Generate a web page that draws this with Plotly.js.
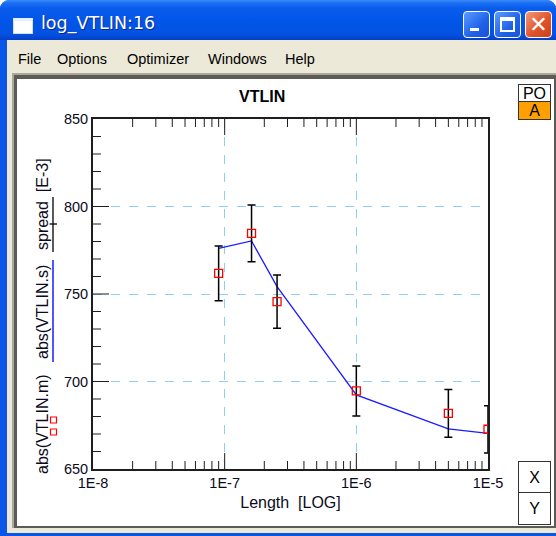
<!DOCTYPE html>
<html><head><meta charset="utf-8">
<script src="https://cdn.plot.ly/plotly-3.0.1.min.js"></script>
<style>
html,body{margin:0;padding:0;background:#fff;width:556px;height:536px;overflow:hidden;font-family:"Liberation Sans",Arial,sans-serif;}
.a{position:absolute;box-sizing:border-box;}
.menu span{position:absolute;top:0;font-size:14.5px;color:#000;}
.btn{position:absolute;border:1px solid #fff;border-radius:4px;box-sizing:border-box;}
.box{position:absolute;box-sizing:border-box;border:1.5px solid #333;font-size:16px;text-align:center;color:#000;}
</style></head><body>
<!-- window chrome -->
<div class="a" style="left:0;top:0;width:556px;height:536px;background:#0a56e6;border-radius:9px 9px 0 0;"></div>
<div class="a" style="left:0;top:0;width:556px;height:40px;border-radius:9px 9px 0 0;background:linear-gradient(to bottom,#3a8cf8 0%,#1b6ff5 8%,#0a5cec 20%,#0055e8 55%,#0552e2 85%,#0340c6 100%);"></div>
<div class="a" style="left:13px;top:18px;width:20px;height:16px;background:#fff;border:1px solid #cfe0ff;border-top:3px solid #e8f0ff;"></div>
<div class="a" style="left:41px;top:13px;font-family:'DejaVu Sans',sans-serif;font-size:17.5px;color:#fff;white-space:nowrap;text-shadow:1px 1px 0 #0a2a8a;">log_VTLIN:16</div>
<div class="btn" style="left:463px;top:11px;width:27px;height:27px;background:linear-gradient(135deg,#5b9bff,#1f62ea 60%,#1a52d6);"><div class="a" style="left:6px;top:16px;width:9px;height:3px;background:#fff;"></div></div>
<div class="btn" style="left:494px;top:11px;width:27px;height:27px;background:linear-gradient(135deg,#5b9bff,#1f62ea 60%,#1a52d6);"><div class="a" style="left:5px;top:5px;width:15px;height:15px;border:2px solid #fff;border-top-width:4px;"></div></div>
<div class="btn" style="left:525px;top:11px;width:27px;height:27px;background:linear-gradient(135deg,#f09a7a,#e0542c 55%,#c9411c);color:#fff;font-size:22px;line-height:25px;text-align:center;font-family:'DejaVu Sans',sans-serif;">✕</div>
<div class="a" style="left:7px;top:40px;width:549px;height:493px;background:#ece9d8;"></div>
<div class="a menu" style="left:0;top:51px;width:556px;height:20px;">
<span style="left:18px">File</span><span style="left:57px">Options</span><span style="left:127px">Optimizer</span><span style="left:208px">Windows</span><span style="left:285px">Help</span>
</div>
<div class="a" style="left:12px;top:73px;width:544px;height:455px;background:#aca899;"></div>
<div class="a" style="left:14px;top:75px;width:542px;height:453px;background:#5c5b55;"></div>
<div class="a" style="left:17px;top:79px;width:537px;height:447px;background:#fff;"></div>
<div class="box" style="left:518px;top:84px;width:33px;height:19px;line-height:17px;background:#fff;">PO</div>
<div class="box" style="left:518px;top:101px;width:33px;height:19px;line-height:17px;background:#ffa000;">A</div>
<div class="box" style="left:518px;top:461px;width:33px;height:33px;line-height:31px;background:#fff;">X</div>
<div class="box" style="left:518px;top:492px;width:33px;height:33px;line-height:31px;background:#fff;">Y</div>
<div id="plot" class="a" style="left:0;top:0;width:556px;height:536px;"></div>
<script>
// ---- data ----
const lengthVals = [9e-8, 1.6e-7, 2.5e-7, 1e-6, 5e-6, 1e-5];
const measured   = [761.8, 784.6, 745.6, 694.6, 681.8, 672.7];
const simulated  = [776.1, 780.3, 754.2, 692.3, 672.9, 670.4];
const spread     = [15.7, 16.2, 15.2, 14.3, 13.6, 13.5];
const xTickVals  = [1e-8, 1e-7, 1e-6, 1e-5];
const xTickText  = ['1E-8', '1E-7', '1E-6', '1E-5'];
const yTickVals  = [650, 700, 750, 800, 850];

// plot area in pixels
const L = 93, R = 488, T = 119, B = 469, W = 556, H = 536;
const px = x => (x - L) / (R - L);
const py = y => (B - y) / (B - T);

const FONT = 'Liberation Sans, Arial, sans-serif';
const TXT = '#0a0a20';
const AX = '#1e1e1e';
const GRID = '#8ccfff';
const X_RANGE = [-8, -5], Y_RANGE = [650, 850];

const traces = [
  {x: lengthVals, y: simulated, type: 'scatter', mode: 'lines', line: {color: '#1a1aff', width: 1.3}},
  {x: lengthVals, y: measured, type: 'scatter', mode: 'markers',
   marker: {symbol: 'square-open', size: 8, color: '#ff0000', line: {width: 1.3, color: '#ff0000'}},
   error_y: {type: 'data', array: spread, visible: true, color: '#000', thickness: 1.5, width: 4}}
];

const vtext = (t, x, y) => ({
  text: t, x: px(x), y: py(y), xref: 'paper', yref: 'paper', showarrow: false,
  textangle: -90, xanchor: 'center', yanchor: 'middle', font: {family: FONT, size: 16, color: TXT}
});

// axis tick marks (derived from the axis ranges), drawn as paper-referenced shapes
const tickShapes = [];
const xFrac = v => (Math.log10(v) - X_RANGE[0]) / (X_RANGE[1] - X_RANGE[0]);
const yFrac = v => (v - Y_RANGE[0]) / (Y_RANGE[1] - Y_RANGE[0]);
const tickLine = (x0, x1, y0, y1) => tickShapes.push({type: 'line', xref: 'paper', yref: 'paper', x0, x1, y0, y1, line: {color: AX, width: 1}});
for (let k = X_RANGE[0]; k < X_RANGE[1]; k++) {
  for (let m = 1; m <= 9; m++) {
    const f = xFrac(m * Math.pow(10, k));
    if (f <= 0) continue;
    const len = (m === 1 ? 16 : 8) / (B - T);
    tickLine(f, f, 0, len);
    tickLine(f, f, 1, 1 - len);
  }
}
for (let v = Y_RANGE[0] + 10; v < Y_RANGE[1]; v += 10) {
  const f = yFrac(v);
  const len = (v % 50 === 0 ? 16 : 8) / (R - L);
  tickLine(0, len, f, f);
}

const layout = {
  width: W, height: H, margin: {l: L, r: W - R, t: T, b: H - B, pad: 0},
  paper_bgcolor: 'rgba(0,0,0,0)', plot_bgcolor: 'rgba(0,0,0,0)', showlegend: false,
  xaxis: {type: 'log', range: X_RANGE, tickmode: 'array', tickvals: xTickVals, ticktext: xTickText,
    ticks: '', showline: true, linecolor: AX, linewidth: 2, mirror: true,
    showgrid: true, gridcolor: GRID, griddash: 'dash', gridwidth: 1, zeroline: false,
    tickfont: {family: FONT, size: 14.5, color: TXT},
    title: {text: 'Length\u00a0 [LOG]', font: {family: FONT, size: 16, color: TXT}, standoff: 6},
    automargin: false, fixedrange: true},
  yaxis: {range: Y_RANGE, tickmode: 'array', tickvals: yTickVals, ticks: '',
    showline: true, linecolor: AX, linewidth: 2, mirror: true, showgrid: true, gridcolor: GRID, griddash: 'dash', gridwidth: 1, zeroline: false,
    tickfont: {family: FONT, size: 14.5, color: TXT}, automargin: false, fixedrange: true},
  annotations: [
    {text: '<b>VTLIN</b>', x: px(262), y: py(97), xref: 'paper', yref: 'paper', showarrow: false,
     xanchor: 'center', yanchor: 'middle', font: {family: FONT, size: 16, color: '#000'}},
    vtext('abs(VTLIN.m)', 42, 424),
    vtext('abs(VTLIN.s)', 42, 312),
    vtext('spread\u00a0 [E-3]', 42, 204)
  ],
  shapes: [
    {type: 'line', xref: 'paper', yref: 'paper', x0: px(53), x1: px(53), y0: py(260), y1: py(362), line: {color: '#1a1aff', width: 1.5}},
    {type: 'line', xref: 'paper', yref: 'paper', x0: px(53), x1: px(53), y0: py(197), y1: py(252), line: {color: '#000', width: 1.3}},
    {type: 'line', xref: 'paper', yref: 'paper', x0: px(49.5), x1: px(57), y0: py(224), y1: py(224), line: {color: '#000', width: 1.3}},
    {type: 'rect', xref: 'paper', yref: 'paper', x0: px(50.5), x1: px(56.5), y0: py(417), y1: py(423), line: {color: '#ff0000', width: 1.2}},
    {type: 'rect', xref: 'paper', yref: 'paper', x0: px(50.5), x1: px(56.5), y0: py(429), y1: py(435), line: {color: '#ff0000', width: 1.2}}
  ].concat(tickShapes)
};

Plotly.newPlot('plot', traces, layout, {staticPlot: true, displayModeBar: false});
</script>
</body></html>
